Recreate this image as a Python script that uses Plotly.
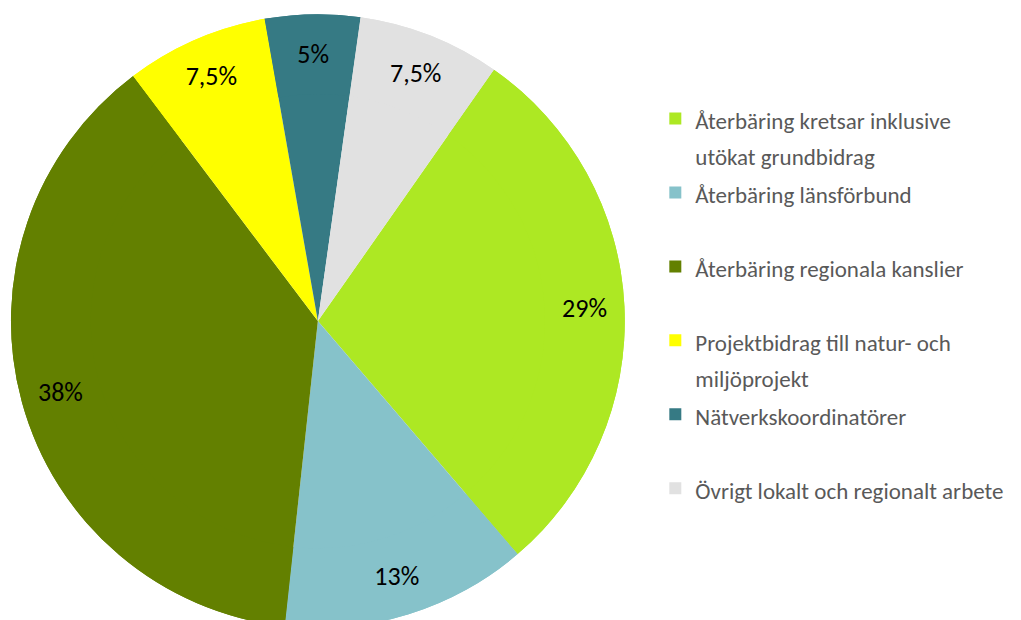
import plotly.graph_objects as go

labels = [
    'Återbäring kretsar inklusive<br>utökat grundbidrag',
    'Återbäring länsförbund',
    'Återbäring regionala kanslier',
    'Projektbidrag till natur- och<br>miljöprojekt',
    'Nätverkskoordinatörer',
    'Övrigt lokalt och regionalt arbete',
]
values = [29, 13, 38, 7.5, 5, 7.5]
colors = ['#ADE823', '#86C2CA', '#638000', '#FFFF00', '#367A84', '#E1E1E1']

font_family = 'Carlito, Lato, sans-serif'


def legend_label(text):
    # alle Einträge zweizeilig, damit der Abstand gleichmäßig wird
    if '<br>' not in text:
        text = text + '<br> '
    return '<br>'.join(
        f'<span style="font-size:23px">{part}</span>' for part in text.split('<br>')
    )


leg_labels = [legend_label(l) for l in labels]
domain = dict(x=[0, 0.607], y=[0, 0.99])

fig = go.Figure()
# volle Torte als Untergrund
fig.add_trace(go.Pie(
    labels=leg_labels, values=values,
    marker=dict(colors=colors, line=dict(width=0)),
    sort=False, direction='clockwise', rotation=35,
    textinfo='none', hoverinfo='skip', showlegend=False,
    domain=domain,
))
# Ring darüber, damit die Prozentwerte nah am Rand sitzen
fig.add_trace(go.Pie(
    labels=leg_labels, values=values,
    marker=dict(colors=colors, line=dict(width=0)),
    sort=False, direction='clockwise', rotation=35,
    hole=0.74,
    texttemplate='%{percent:.1~%}',
    textposition='inside',
    insidetextorientation='horizontal',
    textfont=dict(family=font_family, size=26, color='#000000'),
    hoverinfo='label+percent',
    domain=domain,
))

fig.update_layout(
    width=1021,
    height=620,
    margin=dict(l=0, r=0, t=0, b=0),
    paper_bgcolor='white',
    plot_bgcolor='white',
    separators=', ',
    legend=dict(
        x=0.634, y=0.861, xanchor='left', yanchor='top',
        valign='top',
        font=dict(family=font_family, size=27.3, color='#595959'),
        bgcolor='rgba(0,0,0,0)',
    ),
)

fig.write_html('out.html')
